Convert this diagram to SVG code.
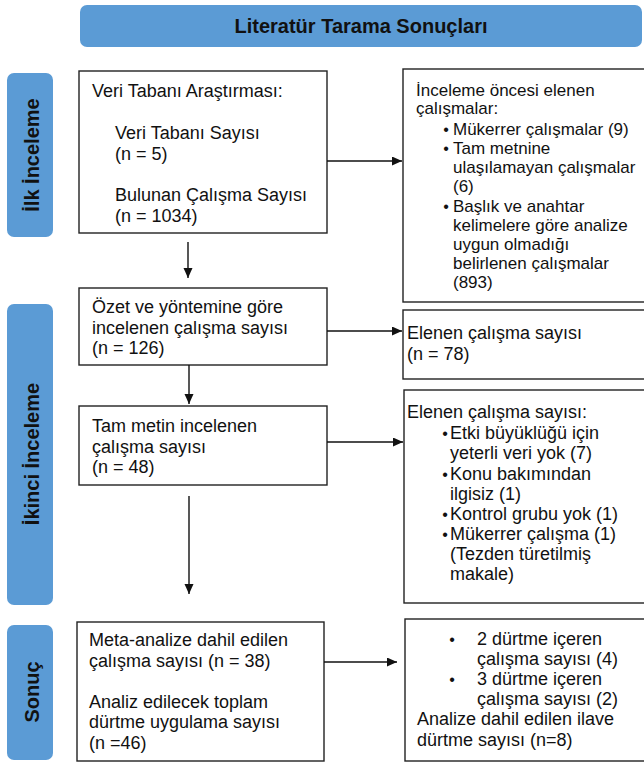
<svg xmlns="http://www.w3.org/2000/svg" width="644" height="762" viewBox="0 0 644 762">
<defs>
<style>
.bar{fill:#5b9bd5;}
.box{fill:#fff;stroke:#222;stroke-width:1.4;}
.t{font-family:"Liberation Sans",Arial,sans-serif;font-size:18px;fill:#111;}
.s{font-size:17px;}
.b{font-family:"Liberation Sans",Arial,sans-serif;font-size:20px;font-weight:bold;fill:#111;text-anchor:middle;}
.bul{font-family:"Liberation Sans",Arial,sans-serif;font-size:16px;fill:#111;text-anchor:middle;}
.c{fill:none;stroke:#111;stroke-width:1.4;}
</style>
<marker id="ah" markerUnits="userSpaceOnUse" markerWidth="10" markerHeight="10" refX="10" refY="4.5" orient="auto">
<path d="M0,0 L10,4.5 L0,9 z" fill="#111"/>
</marker>
</defs>
<rect width="644" height="762" fill="#fff"/>

<g id="title">
<rect class="bar" x="80" y="5" width="562" height="42" rx="7"/>
<text class="b" x="361" y="33">Literatür Tarama Sonuçları</text>
</g>

<g id="phase1">
<rect class="bar" x="7" y="73" width="46" height="164" rx="7"/>
<text class="b" transform="translate(39,155) rotate(-90)">İlk İnceleme</text>
</g>
<g id="phase2">
<rect class="bar" x="7" y="304" width="46" height="301" rx="7"/>
<text class="b" transform="translate(39,454) rotate(-90)">İkinci İnceleme</text>
</g>
<g id="phase3">
<rect class="bar" x="7" y="625" width="46" height="135" rx="7"/>
<text class="b" transform="translate(39,692) rotate(-90)">Sonuç</text>
</g>

<g id="search">
<rect class="box" x="79" y="71" width="248" height="162"/>
<text class="t" x="92" y="97">Veri Tabanı Araştırması:</text>
<text class="t" x="115" y="139">Veri Tabanı Sayısı</text>
<text class="t" x="115" y="160">(n = 5)</text>
<text class="t" x="115" y="201">Bulunan Çalışma Sayısı</text>
<text class="t" x="115" y="222">(n = 1034)</text>
</g>

<g id="excluded1">
<rect class="box" x="403" y="69" width="243" height="233"/>
<text class="t s" x="416" y="96">İnceleme öncesi elenen</text>
<text class="t s" x="416" y="114">çalışmalar:</text>
<text class="bul" x="446" y="135">•</text>
<text class="t s" x="453" y="135">Mükerrer çalışmalar (9)</text>
<text class="bul" x="446" y="154">•</text>
<text class="t s" x="453" y="154">Tam metnine</text>
<text class="t s" x="453" y="173">ulaşılamayan çalışmalar</text>
<text class="t s" x="453" y="192">(6)</text>
<text class="bul" x="446" y="212">•</text>
<text class="t s" x="453" y="212">Başlık ve anahtar</text>
<text class="t s" x="453" y="231">kelimelere göre analize</text>
<text class="t s" x="453" y="250">uygun olmadığı</text>
<text class="t s" x="453" y="269">belirlenen çalışmalar</text>
<text class="t s" x="453" y="288">(893)</text>
</g>

<g id="abstract">
<rect class="box" x="79" y="288" width="248" height="77"/>
<text class="t" x="92" y="313">Özet ve yöntemine göre</text>
<text class="t" x="92" y="333.5">incelenen çalışma sayısı</text>
<text class="t" x="92" y="354">(n = 126)</text>
</g>

<g id="excluded2">
<rect class="box" x="403" y="310" width="243" height="69"/>
<text class="t" x="407" y="339">Elenen çalışma sayısı</text>
<text class="t" x="407" y="360">(n = 78)</text>
</g>

<g id="fulltext">
<rect class="box" x="79" y="406" width="248" height="79"/>
<text class="t" x="92" y="432">Tam metin incelenen</text>
<text class="t" x="92" y="452.5">çalışma sayısı</text>
<text class="t" x="92" y="473">(n = 48)</text>
</g>

<g id="excluded3">
<rect class="box" x="404" y="390" width="242" height="213"/>
<text class="t" x="407" y="418">Elenen çalışma sayısı:</text>
<text class="bul" x="445" y="439">•</text>
<text class="t" x="450" y="439">Etki büyüklüğü için</text>
<text class="t" x="450" y="459">yeterli veri yok (7)</text>
<text class="bul" x="445" y="480">•</text>
<text class="t" x="450" y="480">Konu bakımından</text>
<text class="t" x="450" y="500">ilgisiz (1)</text>
<text class="bul" x="445" y="520">•</text>
<text class="t" x="450" y="520">Kontrol grubu yok (1)</text>
<text class="bul" x="445" y="540">•</text>
<text class="t" x="450" y="540">Mükerrer çalışma (1)</text>
<text class="t" x="450" y="560">(Tezden türetilmiş</text>
<text class="t" x="450" y="580">makale)</text>
</g>

<g id="included">
<rect class="box" x="77" y="622" width="247" height="139"/>
<text class="t" x="89" y="646">Meta-analize dahil edilen</text>
<text class="t" x="89" y="666.5">çalışma sayısı (n = 38)</text>
<text class="t" x="89" y="708">Analiz edilecek toplam</text>
<text class="t" x="89" y="728">dürtme uygulama sayısı</text>
<text class="t" x="89" y="748.5">(n =46)</text>
</g>

<g id="nudges">
<rect class="box" x="405" y="619" width="241" height="142"/>
<text class="bul" x="452" y="645">•</text>
<text class="t" x="477" y="645">2 dürtme içeren</text>
<text class="t" x="477" y="665">çalışma sayısı (4)</text>
<text class="bul" x="452" y="685">•</text>
<text class="t" x="477" y="685">3 dürtme içeren</text>
<text class="t" x="477" y="705">çalışma sayısı (2)</text>
<text class="t" x="417" y="725">Analize dahil edilen ilave</text>
<text class="t" x="417" y="746">dürtme sayısı (n=8)</text>
</g>

<g id="connectors">
<line class="c" x1="327" y1="161" x2="402" y2="161" marker-end="url(#ah)"/>
<line class="c" x1="188" y1="242" x2="188" y2="278" marker-end="url(#ah)"/>
<line class="c" x1="327" y1="331" x2="402" y2="331" marker-end="url(#ah)"/>
<line class="c" x1="189" y1="365" x2="189" y2="404" marker-end="url(#ah)"/>
<line class="c" x1="327" y1="442" x2="403" y2="442" marker-end="url(#ah)"/>
<line class="c" x1="189" y1="496" x2="189" y2="594" marker-end="url(#ah)"/>
<line class="c" x1="324" y1="662" x2="397" y2="662" marker-end="url(#ah)"/>
</g>
</svg>
